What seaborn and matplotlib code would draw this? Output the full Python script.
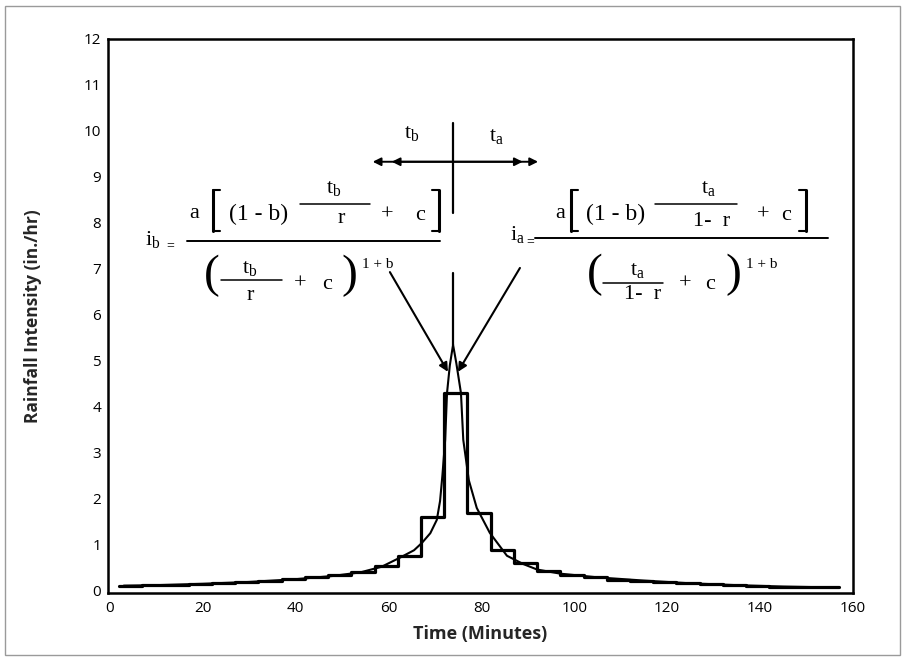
import matplotlib
matplotlib.use("Agg")
import matplotlib.pyplot as plt
import seaborn as sns
from matplotlib.lines import Line2D
from matplotlib.patches import Rectangle
from matplotlib.ticker import MultipleLocator

# 5-minute hyetograph block edges (minutes) and intensities (in./hr)
block_edges = [2, 7, 12, 17, 22, 27, 32, 37, 42, 47, 52, 57, 62, 67, 72, 77,
               82, 87, 92, 97, 102, 107, 112, 117, 122, 127, 132, 137, 142,
               147, 152, 157]
block_intensity = [0.11, 0.12, 0.13, 0.15, 0.17, 0.19, 0.22, 0.25, 0.29, 0.34,
                   0.41, 0.53, 0.75, 1.60, 4.30, 1.70, 0.88, 0.60, 0.43, 0.35,
                   0.29, 0.24, 0.21, 0.18, 0.16, 0.14, 0.12, 0.10, 0.09, 0.08,
                   0.07]

# Continuous intensity curve (minutes, in./hr)
curve_time = [3, 10, 20, 30, 40, 48, 54, 58.5, 62.5, 65.5, 67.2, 69, 70.4,
              71.1, 71.6, 72.2, 72.6, 73.2, 73.9, 74.6, 75.6, 76.1, 77.3, 79,
              81.8, 85.5, 89, 92, 97, 105, 115, 125, 135, 145, 156]
curve_intensity = [0.11, 0.12, 0.15, 0.19, 0.25, 0.32, 0.40, 0.52, 0.72, 0.88,
                   1.04, 1.25, 1.54, 1.95, 2.5, 3.28, 4.3, 4.9, 5.35, 4.95,
                   4.3, 3.28, 2.4, 1.8, 1.26, 0.76, 0.58, 0.46, 0.37, 0.29,
                   0.22, 0.16, 0.12, 0.09, 0.07]

x_ticks = [0, 20, 40, 60, 80, 100, 120, 140, 160]
y_ticks = list(range(0, 13))

peak_time = 73.9
peak_value = 5.35

sns.set_theme(style="white")
plt.rcParams['font.family'] = ['Open Sans', 'DejaVu Sans']
plt.rcParams['mathtext.fontset'] = 'custom'
plt.rcParams['mathtext.rm'] = 'Liberation Serif'
plt.rcParams['mathtext.it'] = 'Liberation Serif:italic'
plt.rcParams['mathtext.bf'] = 'Liberation Serif:bold'
plt.rcParams['mathtext.default'] = 'rm'

W, H = 905, 661
fig = plt.figure(figsize=(W / 100, H / 100), dpi=100)
ax = fig.add_axes([0.1193, 0.1029, 0.8232, 0.8381])

# stepped hyetograph
step_y = block_intensity + [block_intensity[-1]]
sns.lineplot(x=block_edges, y=step_y, ax=ax, color="black", linewidth=2.3,
             drawstyle="steps-post", estimator=None)
# smooth intensity curve
sns.lineplot(x=curve_time, y=curve_intensity, ax=ax, color="black",
             linewidth=1.5, sort=False, estimator=None)

ax.set_xlim(-0.4, 160)
ax.set_ylim(-0.05, 12)
ax.set_xticks(x_ticks)
ax.xaxis.set_minor_locator(MultipleLocator(10))
ax.set_yticks(y_ticks)
ax.tick_params(axis="both", which="both", direction="in", length=7,
               width=1.6, color="black", labelsize=11, labelcolor="black")
ax.tick_params(axis="x", pad=6)
ax.tick_params(axis="y", pad=5)
for s in ax.spines.values():
    s.set_visible(True)
    s.set_color("black")
    s.set_linewidth(1.8)

ax.set_xlabel("Time (Minutes)", fontsize=13, fontweight="bold", labelpad=6)
ax.set_ylabel("Rainfall Intensity (in./hr)", fontsize=12.5,
              fontweight="bold", labelpad=30)

# crosshair at the peak with time arrows
ax.plot([peak_time, peak_time], [8.22, 10.17], color="black", lw=1.6)
ax.plot([peak_time, peak_time], [peak_value, 6.91], color="black", lw=1.6)
arrow_kw = dict(arrowstyle="-|>", color="black", lw=1.4,
                mutation_scale=12, shrinkA=0, shrinkB=0)
y_arrow = 9.33
for xe in (56.6, 60.7, 92.2, 88.9):
    ax.annotate("", xy=(xe, y_arrow), xytext=(peak_time, y_arrow),
                arrowprops=arrow_kw)

ptr_kw = dict(arrowstyle="-|>", color="black", lw=1.5, mutation_scale=13,
              shrinkA=0, shrinkB=0)
ax.annotate("", xy=(72.8, 4.76), xytext=(60.3, 6.93), arrowprops=ptr_kw)
ax.annotate("", xy=(74.95, 4.76), xytext=(88.3, 7.02), arrowprops=ptr_kw)


# ---- equation typesetting helpers (pixel positions on the figure) ----
def put(s, x, y, size=16, ha="center"):
    fig.text(x / W, 1 - y / H, s, fontsize=size, ha=ha, va="baseline",
             family="Liberation Serif", color="black")


def hline(x0, x1, y, lw=1.3):
    fig.add_artist(Line2D([x0 / W, x1 / W], [1 - y / H, 1 - y / H],
                          color="black", lw=lw, transform=fig.transFigure))


def vline(x, y0, y1, lw=2.2):
    fig.add_artist(Line2D([x / W, x / W], [1 - y0 / H, 1 - y1 / H],
                          color="black", lw=lw, transform=fig.transFigure))


def bracket(x, y0, y1, side):
    vline(x, y0, y1)
    dx = 7 if side == "left" else -7
    hline(x, x + dx, y0 + 0.5, lw=1.5)
    hline(x, x + dx, y1 - 0.5, lw=1.5)


put(r"$t_b$", 404, 138, ha="left")
put(r"$t_a$", 489, 141, ha="left")

# i_b before the peak
put(r"$i_b$", 145, 245, ha="left")
put("=", 170, 249, size=10)
hline(187, 440, 241, lw=1.4)
put("a", 194, 218)
bracket(213, 190, 231, "left")
put("(1 - b)", 259, 220, size=17)
hline(300, 370, 204, lw=1.1)
put(r"$t_b$", 334, 193)
put("r", 341, 223)
put("+", 387, 220)
put("c", 420, 220)
bracket(439, 190, 231, "right")
put("(", 212, 287, size=34)
hline(221, 282, 280, lw=1.1)
put(r"$t_b$", 250, 273)
put("r", 250, 300)
put("+", 300, 289)
put("c", 327, 289)
put(")", 349, 287, size=34)
put("1 + b", 378, 268, size=11)

# i_a after the peak
put(r"$i_a$", 510, 240, ha="left")
put("=", 530, 245, size=10)
hline(535, 828, 238, lw=1.4)
put("a", 560, 218)
bracket(571, 190, 231, "left")
put("(1 - b)", 616, 220, size=17)
hline(655, 737, 204, lw=1.1)
put(r"$t_a$", 708, 193)
put("1-  r", 712, 226)
put("+", 763, 220)
put("c", 786, 220)
bracket(806, 190, 231, "right")
put("(", 595, 286, size=34)
hline(603, 663, 283, lw=1.1)
put(r"$t_a$", 637, 275)
put("1-  r", 643, 299)
put("+", 685, 289)
put("c", 710, 289)
put(")", 733, 286, size=34)
put("1 + b", 762, 268, size=11)

# thin frame around the figure
fig.patches.append(Rectangle((0.005, 0.009), 0.99, 0.982,
                             transform=fig.transFigure, fill=False,
                             edgecolor="#9a9a9a", linewidth=1.0))

fig.savefig("out.png", dpi=100)
